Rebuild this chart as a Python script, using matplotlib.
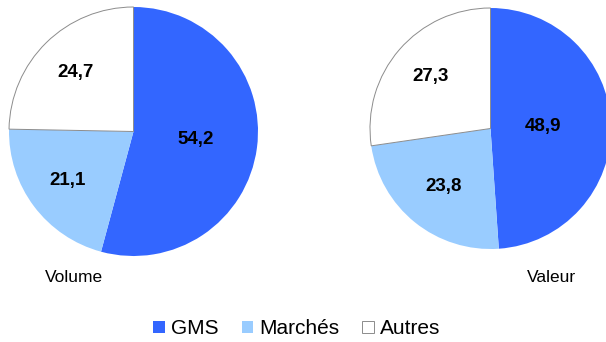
import numpy as np
import matplotlib
matplotlib.use("Agg")
import matplotlib.pyplot as plt

plt.rcParams["font.family"] = ["Liberation Sans", "DejaVu Sans"]

categories = ["GMS", "Marchés", "Autres"]
volume = [54.2, 21.1, 24.7]
valeur = [48.9, 23.8, 27.3]
labels_volume = ["54,2", "21,1", "24,7"]
labels_valeur = ["48,9", "23,8", "27,3"]

colors = ["#3366FF", "#99CCFF", "#FFFFFF"]
W, H = 606, 342

fig = plt.figure(figsize=(W / 100, H / 100), dpi=100)


def draw_pie(cx, cy, r, values, labels, dists):
    ax = fig.add_axes([(cx - r) / W, 1 - (cy + r) / H, 2 * r / W, 2 * r / H])
    wedges, _ = ax.pie(values, colors=colors, startangle=90, counterclock=False,
                       wedgeprops=dict(linewidth=0))
    # thin grey outline on the white slice only
    wedges[2].set_edgecolor("#8c8c8c")
    wedges[2].set_linewidth(0.7)
    ax.set_xlim(-1, 1)
    ax.set_ylim(-1, 1)
    for w, lab, d in zip(wedges, labels, dists):
        ang = np.deg2rad((w.theta1 + w.theta2) / 2)
        ax.text(d * np.cos(ang), d * np.sin(ang), lab, ha="center", va="center",
                fontsize=13.5, fontweight="bold", color="black")
    return wedges


wedges = draw_pie(133.5, 131.5, 124.5, volume, labels_volume, [0.5, 0.66, 0.66])
draw_pie(490.5, 128.5, 120.5, valeur, labels_valeur, [0.44, 0.62, 0.66])

fig.text(74 / W, 1 - 278 / H, "Volume", ha="center", va="center", fontsize=12.5)
fig.text(551 / W, 1 - 278 / H, "Valeur", ha="center", va="center", fontsize=12.5)

fig.legend(wedges, categories, loc="center", bbox_to_anchor=(297 / W, 1 - 329 / H),
           ncol=3, frameon=False, fontsize=15, handlelength=0.55, handleheight=0.55,
           handletextpad=0.3, columnspacing=1.1, borderpad=0)

fig.savefig("out.png", dpi=100)
